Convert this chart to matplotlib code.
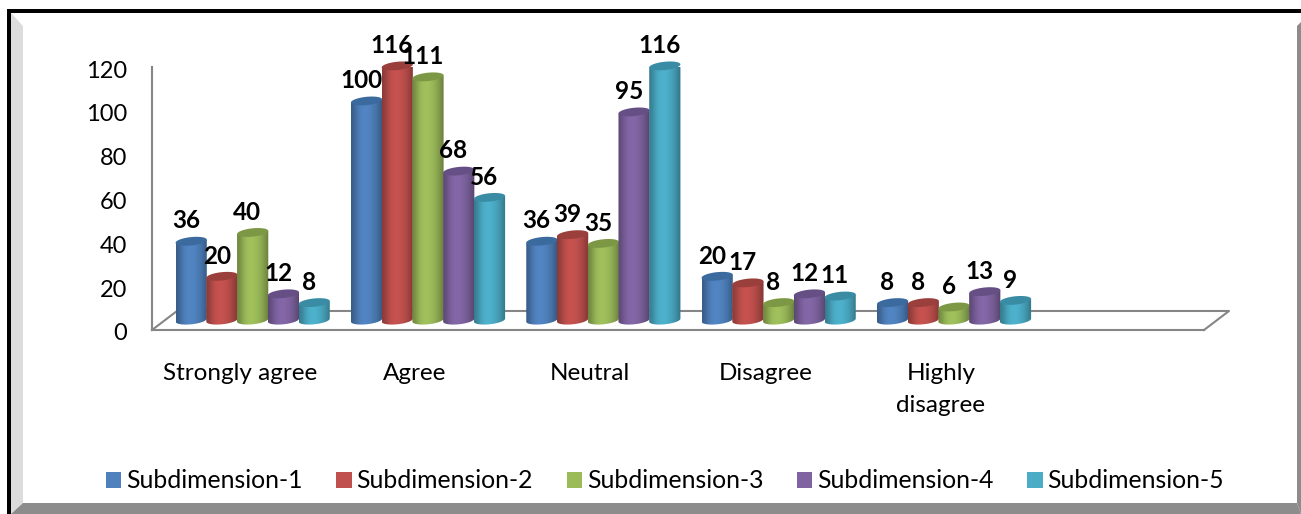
import numpy as np
import matplotlib
matplotlib.use('Agg')
import matplotlib.pyplot as plt
from matplotlib.patches import Polygon, PathPatch, Patch
from matplotlib.path import Path
from matplotlib.colors import to_rgb
from matplotlib.transforms import ScaledTranslation

categories = ['Strongly agree', 'Agree', 'Neutral', 'Disagree', 'Highly\ndisagree']
series_names = ['Subdimension-1', 'Subdimension-2', 'Subdimension-3', 'Subdimension-4', 'Subdimension-5']
sub1 = [36, 100, 36, 20, 8]
sub2 = [20, 116, 39, 17, 8]
sub3 = [40, 111, 35, 8, 6]
sub4 = [12, 68, 95, 12, 13]
sub5 = [8, 56, 116, 11, 9]
y_ticks = [0, 20, 40, 60, 80, 100, 120]

colors = ['#4F81BD', '#C0504D', '#9BBB59', '#8064A2', '#4BACC6']
cap_colors = ['#3A6A9E', '#9A3F3C', '#7D9844', '#654F85', '#3A8CA5']

W, H = 1301, 514
plt.rcParams['font.family'] = ['Lato', 'DejaVu Sans']

fig = plt.figure(figsize=(W / 100, H / 100), dpi=100, facecolor='white')
ax = fig.add_axes([152 / W, 1 - 330 / H, 1052 / W, 263 / H])
ax.set_facecolor('none')


def px(points):
    # pixel coordinates, y measured from the top, to figure fractions
    return [(x / W, 1 - y / H) for x, y in points]


# bevelled frame around the chart
frame = [
    ([(11, 13), (23, 26), (23, 503), (11, 514)], '#DCDCDC'),
    ([(23, 503), (1297, 503), (1301, 514), (11, 514)], '#8C8C8C'),
    ([(1297, 26), (1301, 22), (1301, 514), (1297, 503)], '#8C8C8C'),
    ([(7, 9), (1301, 9), (1301, 13), (7, 13)], '#000000'),
    ([(7, 9), (11, 9), (11, 514), (7, 514)], '#000000'),
]
for points, color in frame:
    fig.patches.append(Polygon(px(points), closed=True, facecolor=color, edgecolor='none',
                               transform=fig.transFigure, figure=fig))

ax.set_xlim(-0.5, 5.5)
ax.set_ylim(0, 120)
ax.set_xticks(range(len(categories)))
ax.set_xticklabels(categories, fontsize=17.5, linespacing=1.6)
ax.set_yticks(y_ticks)
ax.tick_params(axis='both', length=0, labelcolor='black')
ax.tick_params(axis='y', pad=18, labelsize=17)
ax.tick_params(axis='x', pad=24)
# nudge the y labels down a little
nudge = ScaledTranslation(0, -2 / 100, fig.dpi_scale_trans)
for label in ax.get_yticklabels():
    label.set_transform(label.get_transform() + nudge)
for side in ['top', 'right']:
    ax.spines[side].set_visible(False)
for side in ['left', 'bottom']:
    ax.spines[side].set_color('#868686')
    ax.spines[side].set_linewidth(1.5)

# floor of the 3D box
floor_dx = 25 / 175.3
floor_dy = 19 / 2.19
floor_x = [-0.5, -0.5 + floor_dx, 5.5 + floor_dx, 5.5]
floor_y = [0, floor_dy, floor_dy, 0]
ax.plot(floor_x, floor_y, color='#868686', lw=1.5, clip_on=False, zorder=1)

bar_width = 0.178
group_shift = 13 / 175.3
base = 4.5  # bars stand on the floor, behind the front edge
cap_h = 1.9
tilt = 0.7

shade = np.array([0.72, 0.80, 0.92, 1.0, 1.03, 1.03, 1.0, 0.95, 0.88, 0.78, 0.68])
shade = np.interp(np.linspace(0, 10, 64), np.arange(11), shade)
t = np.linspace(0, 2 * np.pi, 61)

all_series = [sub1, sub2, sub3, sub4, sub5]
for s, values in enumerate(all_series):
    rgb = np.array(to_rgb(colors[s]))
    grad = np.clip(shade[None, :, None] * rgb[None, None, :], 0, 1)
    for i, v in enumerate(values):
        cx = i + group_shift + (s - 2) * bar_width * 0.985
        a = bar_width / 2
        top = v + base
        z = 3 + s + i * 10
        # body outline: straight sides, rounded front at the bottom
        lower = t[30:]
        xs = np.r_[cx + a * np.cos(lower), cx + a, cx - a]
        ys = np.r_[base + cap_h * np.sin(lower) + tilt * np.cos(lower), top + tilt, top - tilt]
        body = Path(np.c_[xs, ys])
        clip = PathPatch(body, facecolor='none', edgecolor='none', transform=ax.transData)
        ax.add_patch(clip)
        im = ax.imshow(grad, extent=(cx - a, cx + a, base - cap_h - 1, top + cap_h), aspect='auto',
                       origin='lower', zorder=z, interpolation='bilinear')
        im.set_clip_path(clip)
        cap = np.c_[cx + a * np.cos(t), top + cap_h * np.sin(t) + tilt * np.cos(t)]
        ax.add_patch(Polygon(cap, closed=True, facecolor=cap_colors[s], edgecolor='none',
                             zorder=z + 0.5, clip_on=False))
        ax.annotate(str(v), xy=(cx, top), xytext=(-3.8, 14.6), textcoords='offset points',
                    ha='center', va='center', fontsize=17.5, fontweight='bold', color='black',
                    zorder=200, annotation_clip=False)

ax.set_xlim(-0.5, 5.5)
ax.set_ylim(0, 120)

handles = [Patch(facecolor=c, edgecolor='none') for c in colors]
fig.legend(handles, series_names, ncol=5, frameon=False, fontsize=17.8,
           loc='center', bbox_to_anchor=(665 / W, 1 - 481 / H),
           handlelength=0.62, handleheight=0.62, handletextpad=0.2, columnspacing=1.36)

fig.savefig('out.png', dpi=100)
